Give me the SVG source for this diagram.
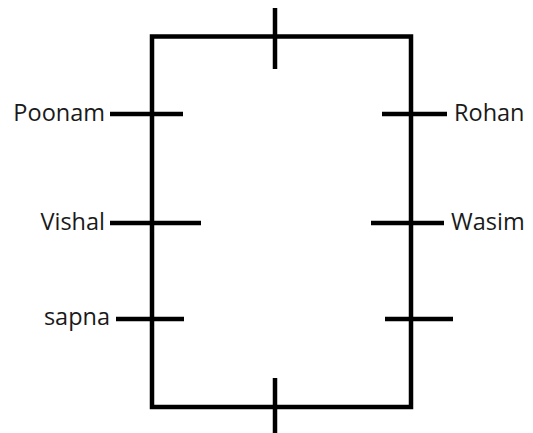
<svg xmlns="http://www.w3.org/2000/svg" width="533" height="433" viewBox="0 0 533 433">
<style>
.ln{stroke:#000;stroke-width:4.5;fill:none;stroke-linecap:butt}
.lbl{font-family:"Open Sans","Liberation Sans",sans-serif;font-size:23.5px;fill:#1a1a1a}
</style>
<rect width="533" height="433" fill="#fff"/>
<g id="frame">
<rect class="ln" x="152" y="36.5" width="259" height="370.5"/>
</g>
<g id="connectors">
<line class="ln" x1="275" y1="8" x2="275" y2="69"/>
<line class="ln" x1="275" y1="378" x2="275" y2="433"/>
<line class="ln" x1="110" y1="114" x2="183" y2="114"/>
<line class="ln" x1="110" y1="223" x2="201" y2="223"/>
<line class="ln" x1="116" y1="319" x2="184" y2="319"/>
<line class="ln" x1="382" y1="114" x2="447" y2="114"/>
<line class="ln" x1="371" y1="223" x2="444" y2="223"/>
<line class="ln" x1="385" y1="319" x2="453" y2="319"/>
</g>
<g id="poonam"><text class="lbl" x="105" y="121" text-anchor="end">Poonam</text></g>
<g id="vishal"><text class="lbl" x="105" y="230" text-anchor="end">Vishal</text></g>
<g id="sapna"><text class="lbl" x="110" y="325" text-anchor="end">sapna</text></g>
<g id="rohan"><text class="lbl" x="454" y="121">Rohan</text></g>
<g id="wasim"><text class="lbl" x="451" y="230">Wasim</text></g>
</svg>
